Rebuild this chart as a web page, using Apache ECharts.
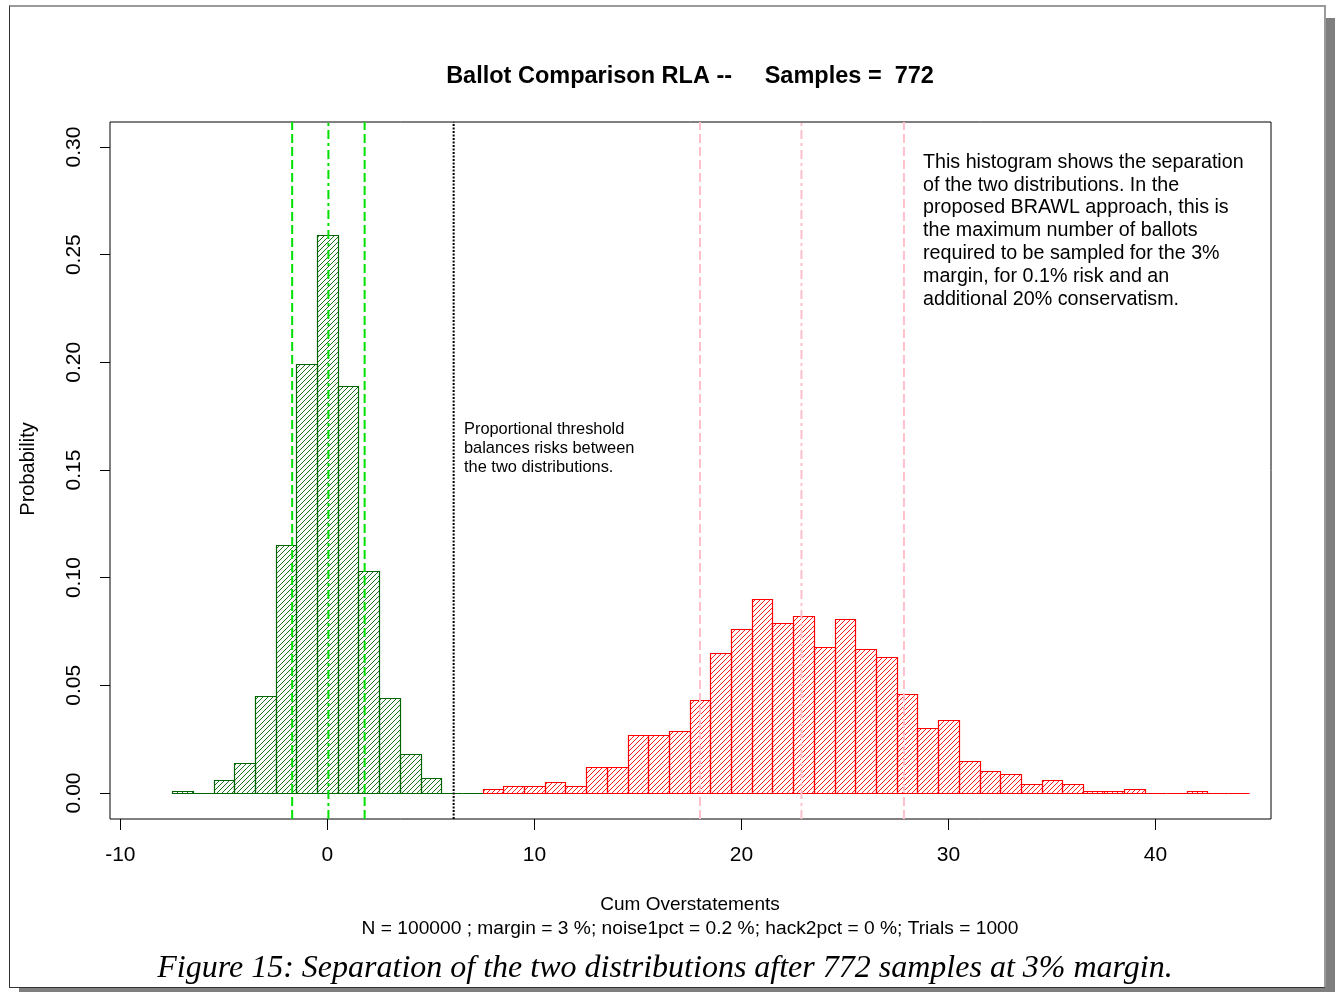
<!DOCTYPE html>
<html>
<head>
<meta charset="utf-8">
<script src="https://cdn.jsdelivr.net/npm/echarts@6/dist/echarts.min.js"></script>
<style>
  html, body { margin: 0; padding: 0; background: #ffffff; }
  #frame { position: absolute; left: 9px; top: 5px; width: 1314px; height: 980px;
           border-top: 2px solid #9a9a9a; border-left: 1px solid #333; border-right: 2px solid #9a9a9a; border-bottom: 1px solid #333;
           background: #fff; box-shadow: 10px 13px 0 0 #7f7f7f; }
  #chart { position: absolute; left: 0; top: 0; width: 1335px; height: 992px; }
</style>
</head>
<body>
<div id="frame"></div>
<div id="chart"></div>
<script>
// ---- data ----
const greenCenters = [-7, -6, -5, -4, -3, -2, -1, 0, 1, 2, 3, 4, 5, 6, 7];
const greenProb = [0.001, 0, 0.006, 0.014, 0.045, 0.115, 0.199, 0.259, 0.189, 0.103, 0.044, 0.018, 0.007, 0, 0];
const redCenters = [8, 9, 10, 11, 12, 13, 14, 15, 16, 17, 18, 19, 20, 21, 22, 23, 24, 25, 26, 27, 28, 29, 30, 31, 32, 33, 34, 35, 36, 37, 38, 39, 40, 41, 42, 43, 44];
const redProb = [0.002, 0.003, 0.003, 0.005, 0.003, 0.012, 0.012, 0.027, 0.027, 0.029, 0.043, 0.065, 0.076, 0.090, 0.079, 0.082, 0.068, 0.081, 0.067, 0.063, 0.046, 0.030, 0.034, 0.015, 0.010, 0.009, 0.004, 0.006, 0.004, 0.001, 0.001, 0.002, 0, 0, 0.001, 0, 0];
const greenLines = [-1.7, 0.05, 1.8];   // mean - sd, mean, mean + sd
const redLines = [18.0, 22.9, 27.85];
const thresholdLine = 6.1;
const xTicks = [-10, 0, 10, 20, 30, 40];
const yTicks = [0, 0.05, 0.10, 0.15, 0.20, 0.25, 0.30];
const binWidth = 1;

const X_MIN = -10.5, X_MAX = 45.58, Y_MIN = -0.0121, Y_MAX = 0.3116;

function hatch(color, p) {
  const c = document.createElement('canvas');
  c.width = p; c.height = p;
  const g = c.getContext('2d');
  g.strokeStyle = color; g.lineWidth = 0.9;
  g.beginPath();
  g.moveTo(-1, p + 1); g.lineTo(p + 1, -1);
  g.moveTo(-1, 1); g.lineTo(1, -1);
  g.moveTo(p - 1, p + 1); g.lineTo(p + 1, p - 1);
  g.stroke();
  return { image: c, repeat: 'repeat' };
}

function histSeries(name, centers, probs, color) {
  const pat = hatch(color, 5);
  return {
    name, type: 'custom', z: 2,
    data: centers.map((c, i) => [c, probs[i]]),
    renderItem: function (params, api) {
      const c = api.value(0), v = api.value(1);
      const p1 = api.coord([c - binWidth / 2, v]);
      const p2 = api.coord([c + binWidth / 2, 0]);
      const x1 = Math.round(p1[0]) + 0.5, x2 = Math.round(p2[0]) + 0.5;
      const y1 = Math.round(p1[1]) + 0.5, y2 = Math.round(p2[1]) + 0.5;
      return {
        type: 'rect',
        shape: { x: x1, y: y1, width: x2 - x1, height: y2 - y1 },
        style: { fill: v > 0 ? pat : null, stroke: color, lineWidth: 1.2 }
      };
    }
  };
}

function vline(x, color, dash, width) {
  return {
    type: 'line', z: 5, symbol: 'none', silent: true, animation: false,
    data: [[x, Y_MIN], [x, Y_MAX]],
    lineStyle: { color, width, type: dash }
  };
}

const DASH = [9, 4], DOTDASH = [9, 4, 3, 4], DOT = [2, 1.5];
const F = 'Liberation Sans, Arial, sans-serif';

const chart = echarts.init(document.getElementById('chart'), null, { renderer: 'canvas' });
chart.setOption({
  backgroundColor: 'transparent',
  animation: false,
  grid: { left: 110, top: 122, width: 1161, height: 697, show: true, borderColor: '#000', borderWidth: 1, backgroundColor: 'transparent' },
  xAxis: {
    type: 'value', min: X_MIN, max: X_MAX,
    axisLine: { show: false, onZero: false }, splitLine: { show: false },
    axisTick: { show: true, length: 11, customValues: xTicks, lineStyle: { color: '#000', width: 1 } },
    axisLabel: { customValues: xTicks, margin: 26, fontFamily: F, fontSize: 21, color: '#000' }
  },
  yAxis: {
    type: 'value', min: Y_MIN, max: Y_MAX,
    axisLine: { show: false, onZero: false }, splitLine: { show: false },
    axisTick: { show: true, length: 10, customValues: yTicks, lineStyle: { color: '#000', width: 1 } },
    axisLabel: { customValues: yTicks, rotate: 90, margin: 25, fontFamily: F, fontSize: 21, color: '#000',
                 formatter: v => v.toFixed(2) }
  },
  series: [
    histSeries('green', greenCenters, greenProb, '#006400'),
    histSeries('red', redCenters, redProb, '#ff0000'),
    vline(greenLines[0], '#00e000', DASH, 2),
    vline(greenLines[1], '#00e000', DOTDASH, 2),
    vline(greenLines[2], '#00e000', DASH, 2),
    vline(thresholdLine, '#000000', DOT, 2),
    vline(redLines[0], '#ffc0cb', DASH, 2),
    vline(redLines[1], '#ffc0cb', DOTDASH, 2),
    vline(redLines[2], '#ffc0cb', DASH, 2)
  ],
  graphic: [
    { type: 'text', x: 690, y: 77, style: { text: 'Ballot Comparison RLA --     Samples =  772', font: 'bold 23.5px ' + F, fill: '#000', textAlign: 'center', textVerticalAlign: 'middle' } },
    { type: 'text', x: 28, y: 469, rotation: Math.PI / 2, style: { text: 'Probability', font: '20px ' + F, fill: '#000', textAlign: 'center', textVerticalAlign: 'middle' } },
    { type: 'text', x: 690, y: 905, style: { text: 'Cum Overstatements', font: '19px ' + F, fill: '#000', textAlign: 'center', textVerticalAlign: 'middle' } },
    { type: 'text', x: 690, y: 929, style: { text: 'N = 100000 ; margin = 3 %; noise1pct = 0.2 %; hack2pct = 0 %; Trials = 1000', font: '19.2px ' + F, fill: '#000', textAlign: 'center', textVerticalAlign: 'middle' } },
    { type: 'text', x: 923, y: 151, style: { text: 'This histogram shows the separation\nof the two distributions. In the\nproposed BRAWL approach, this is\nthe maximum number of ballots\nrequired to be sampled for the 3%\nmargin, for 0.1% risk and an\nadditional 20% conservatism.', font: '19.7px ' + F, lineHeight: 22.8, fill: '#000', textAlign: 'left', textVerticalAlign: 'top' } },
    { type: 'text', x: 464, y: 420, style: { text: 'Proportional threshold\nbalances risks between\nthe two distributions.', font: '16.4px ' + F, lineHeight: 19, fill: '#000', textAlign: 'left', textVerticalAlign: 'top' } },
    { type: 'text', x: 665, y: 969, style: { text: 'Figure 15: Separation of the two distributions after 772 samples at 3% margin.', font: 'italic 32px Liberation Serif, serif', fill: '#000', textAlign: 'center', textVerticalAlign: 'middle' } }
  ]
});
</script>
</body>
</html>
